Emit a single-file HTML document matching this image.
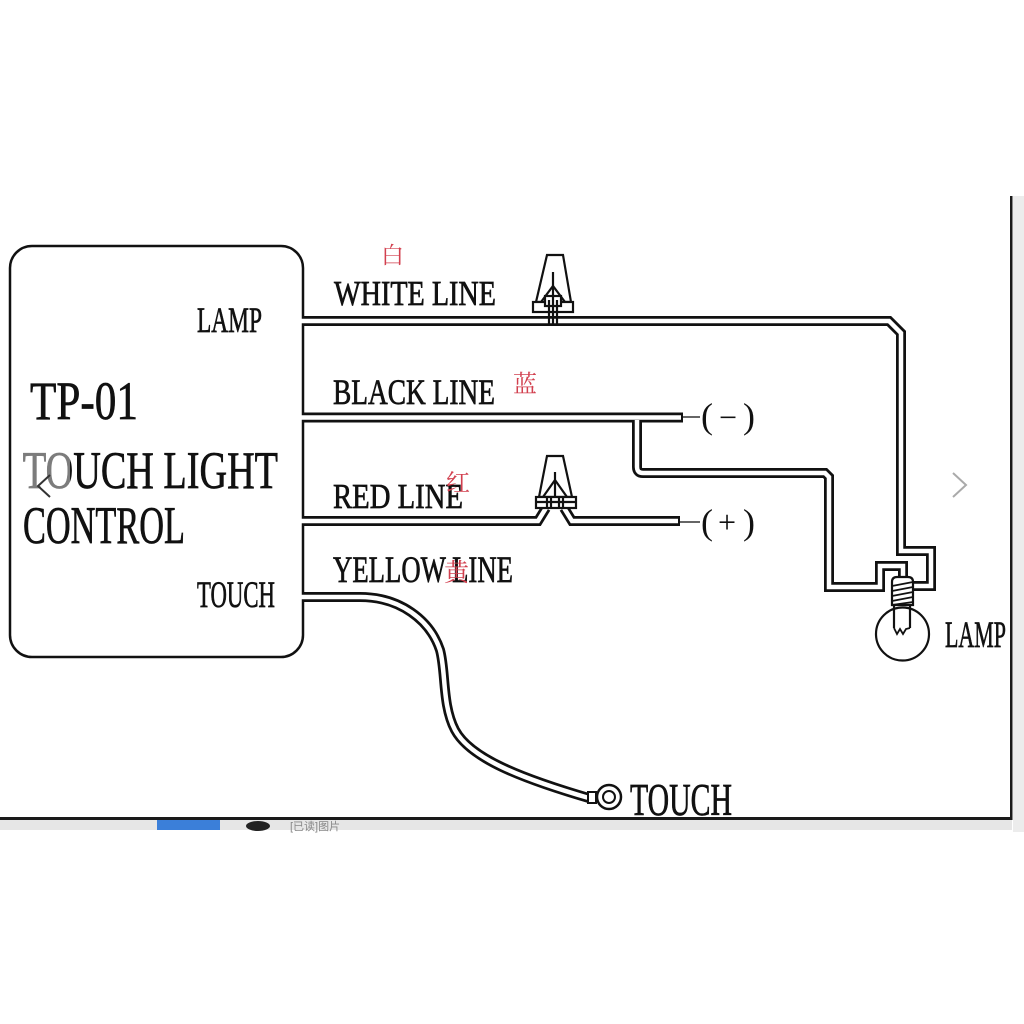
<!DOCTYPE html>
<html><head><meta charset="utf-8"><style>
html,body{margin:0;padding:0;background:#fff;}
svg{display:block;}
.t{font-family:"Liberation Serif","Noto Serif CJK SC",serif;fill:#111;stroke:#111;stroke-width:0.7;}
.p{font-family:"Liberation Serif",serif;fill:#111;}
.c{font-family:"Liberation Serif","Noto Serif CJK SC","Noto Sans CJK SC",serif;fill:#d2404f;}
</style></head><body>
<svg width="1024" height="1024" viewBox="0 0 1024 1024" xmlns="http://www.w3.org/2000/svg">
<rect width="1024" height="1024" fill="#fff"/>

<!-- frame bits of the screenshot -->
<rect x="1013" y="196" width="11" height="636" fill="#ececec"/>
<rect x="0" y="820" width="1012" height="10" fill="#e6e6e6"/>
<rect x="157" y="820" width="63" height="10" fill="#3b7fd9"/>
<ellipse cx="258" cy="826" rx="12" ry="5" fill="#222"/>
<text x="290" y="830" font-family="Liberation Sans,'Noto Sans CJK SC',sans-serif" font-size="11" fill="#888">[已读]图片</text>
<rect x="1010" y="196" width="2.5" height="624" fill="#1a1a1a"/>
<rect x="0" y="817" width="1012.5" height="3" fill="#1a1a1a"/>

<!-- control box -->
<rect x="10" y="246" width="293" height="411" rx="22" ry="22" fill="none" stroke="#111" stroke-width="2.5"/>

<!-- wires: black outer strokes -->
<g fill="none" stroke="#111" stroke-width="10" stroke-linejoin="miter" stroke-linecap="butt">
  <path d="M303,321 H889 L901,333 V551 H931 V586 H911"/>
  <path d="M303,417.5 H683"/>
  <path d="M637,417.5 V467 Q637,473 643,473 H825 L829,477 V587 H880 V566 H903 V579"/>
  <path d="M303,521 H538 L546,508 M564,508 L572,521 H680"/>
  <path d="M303,597 H360 C400,597 430,620 440,650 C446,672 442,705 455,730 C470,758 520,778 592,799"/>
</g>
<!-- wires: white inner strokes -->
<g fill="none" stroke="#fff" stroke-width="4.5" stroke-linejoin="miter" stroke-linecap="butt">
  <path d="M300,321 H889 L901,333 V551 H931 V586 H913"/>
  <path d="M300,417.5 H681"/>
  <path d="M637,420 V467 Q637,473 643,473 H825 L829,477 V587 H880 V566 H903 V581"/>
  <path d="M300,521 H538 L546,508 M564,508 L572,521 H678"/>
  <path d="M300,597 H360 C400,597 430,620 440,650 C446,672 442,705 455,730 C470,758 520,778 590,798.4"/>
</g>

<!-- terminal dashes -->
<line x1="683" y1="417" x2="700" y2="417" stroke="#333" stroke-width="1.5"/>
<line x1="680" y1="522" x2="700" y2="522" stroke="#333" stroke-width="1.5"/>

<!-- white line wire nut -->
<g stroke="#111" stroke-width="2.2" fill="#fff">
  <polygon points="547,255 563,255 571,302 536,302"/>
  <rect x="533" y="302" width="40" height="10"/>
  <rect x="545" y="296" width="16" height="10"/>
  <line x1="553" y1="272" x2="553" y2="325"/>
  <line x1="549" y1="300" x2="549" y2="325"/>
  <line x1="557" y1="300" x2="557" y2="325"/>
  <polyline points="541,302 553,286 565,302" fill="none"/>
</g>

<!-- red line wire nut -->
<g stroke="#111" stroke-width="2.2" fill="#fff">
  <polygon points="547,456 563,456 572,497 539,497"/>
  <rect x="536" y="497" width="40" height="11"/>
  <line x1="555" y1="472" x2="555" y2="497"/>
  <polyline points="543,497 555,480 567,497" fill="none"/>
  <line x1="547" y1="497" x2="547" y2="508"/>
  <line x1="551" y1="497" x2="551" y2="508"/>
  <line x1="559" y1="497" x2="559" y2="508"/>
  <line x1="563" y1="497" x2="563" y2="508"/>
  <line x1="536" y1="502" x2="576" y2="502"/>
</g>

<!-- lamp bulb -->
<g stroke="#111" stroke-width="2.2" fill="none">
  <circle cx="902.5" cy="634" r="26.5" fill="#fff"/>
  <path d="M892,605 V582 Q892,577 897,577 H908 Q913,577 913,582 V605 Z" fill="#fff"/>
  <line x1="892" y1="586" x2="913" y2="582" stroke-width="1.8"/>
  <line x1="892" y1="591" x2="913" y2="587" stroke-width="1.8"/>
  <line x1="892" y1="596" x2="913" y2="592" stroke-width="1.8"/>
  <line x1="892" y1="601" x2="913" y2="597" stroke-width="1.8"/>
  <line x1="892" y1="605" x2="913" y2="602" stroke-width="1.8"/>
  <line x1="894" y1="605" x2="894" y2="628"/>
  <line x1="910" y1="605" x2="910" y2="628"/>
  <polyline points="894,628 897,634 900,629 903,634 906,629 910,628" stroke-width="1.8"/>
</g>

<!-- touch ring -->
<g stroke="#111" fill="#fff">
  <rect x="588" y="792" width="8" height="11" stroke-width="2"/>
  <circle cx="609" cy="797" r="12" stroke-width="2.5"/>
  <circle cx="609" cy="797" r="6" stroke-width="2"/>
</g>

<!-- texts -->
<text class="t" x="197" y="332" font-size="36" textLength="65" lengthAdjust="spacingAndGlyphs">LAMP</text>
<text class="t" x="30" y="419" font-size="54" textLength="108" lengthAdjust="spacingAndGlyphs">TP-01</text>
<text class="t" x="23" y="488" font-size="53" textLength="255" lengthAdjust="spacingAndGlyphs">TOUCH LIGHT</text>
<text class="t" x="23" y="543" font-size="53" textLength="162" lengthAdjust="spacingAndGlyphs">CONTROL</text>
<text class="t" x="197" y="607" font-size="37" textLength="78" lengthAdjust="spacingAndGlyphs">TOUCH</text>

<text class="t" x="334" y="305" font-size="35" textLength="162" lengthAdjust="spacingAndGlyphs">WHITE LINE</text>
<text class="t" x="333" y="404" font-size="36" textLength="162" lengthAdjust="spacingAndGlyphs">BLACK LINE</text>
<text class="t" x="333" y="508" font-size="35" textLength="130" lengthAdjust="spacingAndGlyphs">RED LINE</text>
<text class="t" x="333" y="582" font-size="37" textLength="180" lengthAdjust="spacingAndGlyphs">YELLOW LINE</text>

<text class="p" x="701" y="428" font-size="36">(</text>
<text class="p" x="719" y="428" font-size="32">−</text>
<text class="p" x="743" y="428" font-size="36">)</text>
<text class="p" x="701" y="534" font-size="36">(</text>
<text class="p" x="718" y="533" font-size="32">+</text>
<text class="p" x="743" y="534" font-size="36">)</text>

<text class="t" x="945" y="647" font-size="37" textLength="61" lengthAdjust="spacingAndGlyphs">LAMP</text>
<text class="t" x="630" y="815" font-size="45" textLength="102" lengthAdjust="spacingAndGlyphs">TOUCH</text>

<text class="c" x="381" y="263" font-size="23">白</text>
<text class="c" x="513" y="392" font-size="24">蓝</text>
<text class="c" x="446" y="491" font-size="24">红</text>
<text class="c" x="444" y="581" font-size="25">黄</text>

<!-- overlay highlight on "TO" -->
<rect x="24" y="450" width="46" height="40" fill="#fff" opacity="0.45"/>

<!-- nav chevrons -->
<polyline points="50,475 38,486 50,497" fill="none" stroke="#333" stroke-width="2"/>
<polyline points="953,473 966,485 953,497" fill="none" stroke="#aaa" stroke-width="2"/>
</svg>
</body></html>
